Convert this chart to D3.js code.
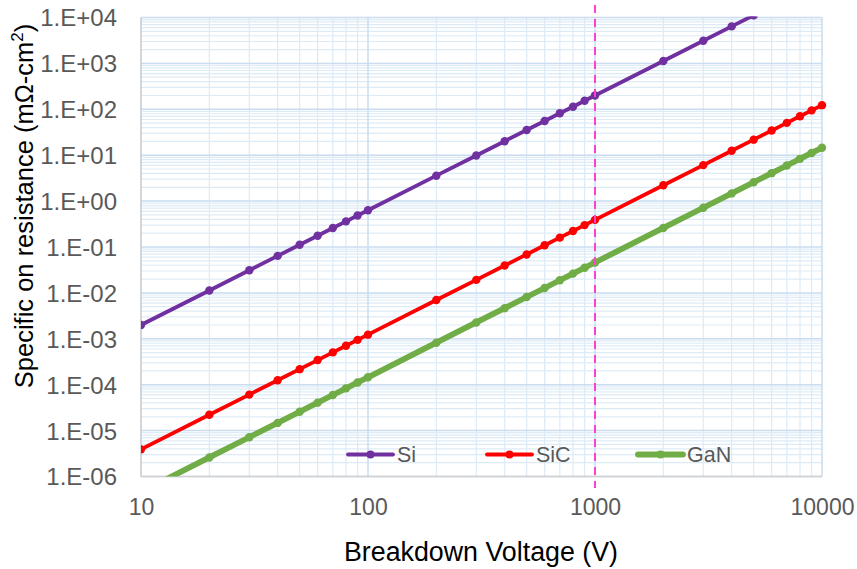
<!DOCTYPE html>
<html><head><meta charset="utf-8">
<script src="https://cdn.jsdelivr.net/npm/d3@7/dist/d3.min.js"></script>
<style>html,body{margin:0;padding:0;background:#fff;}svg{display:block;}</style>
</head><body><svg id="c" width="857" height="569"></svg>
<script>
const voltage = [10,20,30,40,50,60,70,80,90,100,200,300,400,500,600,700,800,900,1000,2000,3000,4000,5000,6000,7000,8000,9000,10000];
const siValues = [0.002,0.0113,0.0312,0.064,0.112,0.176,0.259,0.362,0.486,0.632,3.58,9.86,20.2,35.4,55.8,82.0,114,154,200,1131,3118,6400,11180,17640,25930,36200,48600,63250];
const sicValues = [3.9e-6,2.21e-5,6.08e-5,1.25e-4,2.18e-4,3.44e-4,5.06e-4,7.06e-4,9.48e-4,1.23e-3,6.98e-3,1.92e-2,3.95e-2,6.89e-2,0.109,0.160,0.223,0.300,0.390,2.21,6.08,12.5,21.8,34.4,50.6,70.6,94.8,123];
const ganValues = [4.6e-7,2.60e-6,7.17e-6,1.47e-5,2.57e-5,4.06e-5,5.96e-5,8.33e-5,1.12e-4,1.45e-4,8.23e-4,2.27e-3,4.65e-3,8.13e-3,1.28e-2,1.89e-2,2.63e-2,3.53e-2,4.6e-2,0.260,0.717,1.47,2.57,4.06,5.96,8.33,11.2,14.5];
const seriesNames = ["Si","SiC","GaN"];
const xTicks = [10,100,1000,10000];
const yTickLabels = ["1.E-06","1.E-05","1.E-04","1.E-03","1.E-02","1.E-01","1.E+00","1.E+01","1.E+02","1.E+03","1.E+04"];
const markerVoltage = 1000;

const colors = {Si:"#7030A0", SiC:"#FF0000", GaN:"#70AD47"};
const widths = {Si:3.8, SiC:3.8, GaN:5.8};
const series = [
  {name:"Si", values:siValues},
  {name:"SiC", values:sicValues},
  {name:"GaN", values:ganValues}
];

const FONT = "Liberation Sans, Arial, sans-serif";
const L=141, R=822, T=17.5, B=476.5;
const svg = d3.select("#c");
const x = d3.scaleLog().domain([10,10000]).range([L,R]);
const y = d3.scaleLog().domain([1e-6,1e4]).range([B,T]);

const minorX=[], minorY=[];
for(let d=10; d<10000; d*=10) for(let k=2;k<=9;k++) minorX.push(d*k);
for(let e=-6; e<4; e++) for(let k=2;k<=9;k++) minorY.push(k*Math.pow(10,e));
const majorY = yTickLabels.map((_,i)=>Math.pow(10,i-6));

const g = svg.append("g");
g.selectAll(".mx").data(minorX).join("line")
  .attr("x1",d=>x(d)).attr("x2",d=>x(d)).attr("y1",T).attr("y2",B)
  .attr("stroke","#DDEBF7").attr("stroke-width",1.2);
g.selectAll(".my").data(minorY).join("line")
  .attr("y1",d=>y(d)).attr("y2",d=>y(d)).attr("x1",L).attr("x2",R)
  .attr("stroke","#DDEBF7").attr("stroke-width",1.2);
g.selectAll(".Mx").data(xTicks).join("line")
  .attr("x1",d=>x(d)).attr("x2",d=>x(d)).attr("y1",T).attr("y2",B)
  .attr("stroke","#C9DCF0").attr("stroke-width",1.5);
g.selectAll(".My").data(majorY).join("line")
  .attr("y1",d=>y(d)).attr("y2",d=>y(d)).attr("x1",L).attr("x2",R)
  .attr("stroke","#C9DCF0").attr("stroke-width",1.5);
g.append("line").attr("x1",L).attr("x2",L).attr("y1",T).attr("y2",B).attr("stroke","#D0D0D0").attr("stroke-width",1.5);
g.append("line").attr("x1",L).attr("x2",R).attr("y1",B).attr("y2",B).attr("stroke","#D0D0D0").attr("stroke-width",1.5);

const yAxis = d3.axisLeft(y).tickValues(majorY).tickFormat((d,i)=>yTickLabels[i]).tickSize(0).tickPadding(0);
const ya = svg.append("g").attr("transform",`translate(117,0)`).call(yAxis);
ya.select(".domain").remove();
ya.selectAll("text").attr("font-family",FONT).attr("font-size",24).attr("fill","#595959").attr("dy","0.35em");

const xAxis = d3.axisBottom(x).tickValues(xTicks).tickFormat(d3.format("d")).tickSize(0).tickPadding(0);
const xa = svg.append("g").attr("transform",`translate(0,${B+18})`).call(xAxis);
xa.select(".domain").remove();
xa.selectAll("text").attr("font-family",FONT).attr("font-size",23).attr("fill","#595959").attr("dy","0.9em");

svg.append("clipPath").attr("id","clip").append("rect").attr("x",L).attr("y",T-1).attr("width",R-L+6).attr("height",B-T+1);
const plot = svg.append("g").attr("clip-path","url(#clip)");
const line = d3.line().x((d,i)=>x(voltage[i])).y(d=>y(d));
series.forEach(s=>{
  plot.append("path").datum(s.values).attr("d",line).attr("fill","none")
    .attr("stroke",colors[s.name]).attr("stroke-width",widths[s.name]).attr("stroke-linejoin","round");
  plot.selectAll(null).data(s.values).join("circle")
    .attr("cx",(d,i)=>x(voltage[i])).attr("cy",d=>y(d)).attr("r",4.2).attr("fill",colors[s.name]);
});

svg.append("line").attr("x1",x(markerVoltage)).attr("x2",x(markerVoltage)).attr("y1",5).attr("y2",488)
  .attr("stroke","#FF3FD0").attr("stroke-width",2).attr("stroke-dasharray","8,6");

const legendX = {Si:348, SiC:487, GaN:638};
const ly = 454.5;
seriesNames.forEach(n=>{
  const lg = svg.append("g");
  lg.append("line").attr("x1",legendX[n]).attr("x2",legendX[n]+45).attr("y1",ly).attr("y2",ly)
    .attr("stroke",colors[n]).attr("stroke-width",widths[n]).attr("stroke-linecap","round");
  lg.append("circle").attr("cx",legendX[n]+22.5).attr("cy",ly).attr("r",4).attr("fill",colors[n]);
  lg.append("text").attr("x",legendX[n]+49).attr("y",ly).attr("dy","0.36em")
    .attr("font-family",FONT).attr("font-size",21.5).attr("fill","#595959").text(n);
});

svg.append("text").attr("x",481).attr("y",561).attr("text-anchor","middle")
  .attr("font-family",FONT).attr("font-size",26.8).attr("fill","#000")
  .text("Breakdown Voltage (V)");
const yt = svg.append("text").attr("transform","translate(33,206) rotate(-90)").attr("text-anchor","middle")
  .attr("font-family",FONT).attr("font-size",25.5).attr("fill","#000");
yt.append("tspan").text("Specific on resistance (mΩ-cm");
yt.append("tspan").attr("font-size",17).attr("dy",-10).text("2");
yt.append("tspan").attr("dy",10).text(")");
</script></body></html>
